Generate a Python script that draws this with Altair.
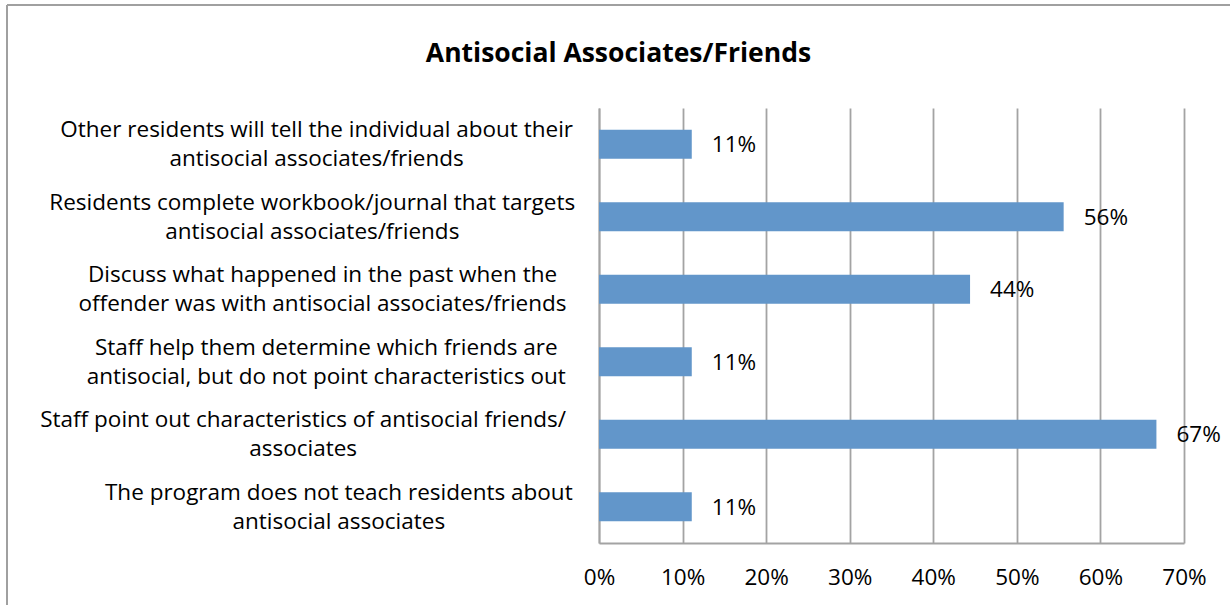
import altair as alt
import pandas as pd

FONT = "Open Sans"
FS = 22.5

categories = [
    "Other residents will tell the individual about their|antisocial associates/friends",
    "Residents complete workbook/journal that targets|antisocial associates/friends",
    "Discuss what happened in the past when the|offender was with antisocial associates/friends",
    "Staff help them determine which friends are|antisocial, but do not point characteristics out",
    "Staff point out characteristics of antisocial friends/|associates",
    "The program does not teach residents about|antisocial associates",
]
values = [0.111, 0.556, 0.444, 0.111, 0.667, 0.111]
x_ticks = [0.0, 0.1, 0.2, 0.3, 0.4, 0.5, 0.6, 0.7]
title_text = "Antisocial Associates/Friends"

df = pd.DataFrame({"cat": categories, "val": values})

GRID = "#a3a3a3"


def line_width_expr(i):
    # rough text-width estimate: narrow glyphs ~0.29em, the rest ~0.6em
    s = f"split(datum.value, '|')[{i}]"
    return (
        f"({FS * 0.29:.3f} * length({s}) + "
        f"{FS * 0.31:.3f} * length(replace({s}, regexp('[iltfjr ,./]', 'g'), '')))"
    )


# centre each multi-line label so that its longest line ends 26px left of the axis
pad_expr = f"26 + max({line_width_expr(0)}, {line_width_expr(1)}) / 2"

x_enc = alt.X(
    "val:Q",
    title=None,
    scale=alt.Scale(domain=[0, 0.7], nice=False),
    axis=alt.Axis(
        values=x_ticks,
        format=".0%",
        labelFont=FONT,
        labelFontSize=FS,
        labelColor="black",
        labelPadding=23,
        labelFlush=False,
        labelOverlap=False,
        ticks=False,
        grid=True,
        gridColor=GRID,
        gridWidth=1.8,
        domainColor=GRID,
        domainWidth=1.8,
    ),
)

y_enc = alt.Y(
    "cat:N",
    sort=categories,
    title=None,
    scale=alt.Scale(paddingInner=0.6, paddingOuter=0.3),
    axis=alt.Axis(
        labelExpr="split(datum.label, '|')",
        labelAlign="center",
        labelBaseline="middle",
        labelLineHeight=29,
        labelOffset=-14,
        labelFont=FONT,
        labelFontSize=FS,
        labelColor="black",
        labelLimit=0,
        labelPadding={"expr": pad_expr},
        ticks=False,
        grid=False,
        domainColor=GRID,
        domainWidth=1.8,
    ),
)

base = alt.Chart(df)

bars = base.mark_bar(color="#6296ca").encode(x=x_enc, y=y_enc)

labels = base.mark_text(
    align="left", baseline="middle", dx=20, dy=1, font=FONT, fontSize=FS, color="black"
).encode(
    x=alt.X("val:Q"),
    y=alt.Y("cat:N", sort=categories),
    text=alt.Text("val:Q", format=".0%"),
)

frame_df = pd.DataFrame({"k": [0]})
left_border = alt.Chart(frame_df).mark_rule(color="#a0a0a0", strokeWidth=2).encode(
    x=alt.value(-592), y=alt.value(-103), y2=alt.value(497)
)
top_border = alt.Chart(frame_df).mark_rule(color="#a0a0a0", strokeWidth=2).encode(
    x=alt.value(-592), x2=alt.value(631), y=alt.value(-103)
)

chart = (
    alt.layer(left_border, top_border, bars, labels)
    .properties(
        width=585,
        height=435,
        title=alt.Title(
            title_text,
            font=FONT,
            fontSize=26.5,
            fontWeight="bold",
            color="black",
            anchor="middle",
            frame="bounds",
            baseline="alphabetic",
            offset=-84,
        ),
        autosize=alt.AutoSizeParams(type="none"),
        padding={"left": 599, "top": 108, "right": 46, "bottom": 62},
        background="white",
    )
    .configure_view(stroke=None)
)

chart.save("out.html", embed_options={"renderer": "svg", "actions": False})
